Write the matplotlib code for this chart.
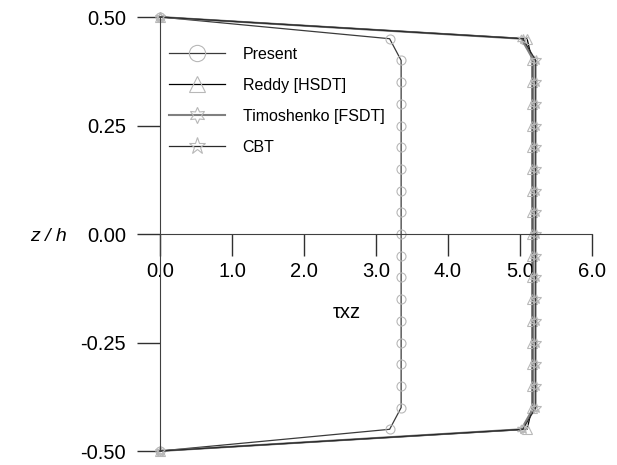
import matplotlib
matplotlib.use('Agg')
import matplotlib.pyplot as plt

plt.rcParams['font.family'] = ['Liberation Sans', 'DejaVu Sans']

# Posição normalizada ao longo da espessura
z_h = [0.50, 0.45, 0.40, 0.35, 0.30, 0.25, 0.20, 0.15, 0.10, 0.05, 0.00,
       -0.05, -0.10, -0.15, -0.20, -0.25, -0.30, -0.35, -0.40, -0.45, -0.50]

# Tensão de cisalhamento transversal tau_xz
tau_present = [0.0, 3.19, 3.35, 3.35, 3.35, 3.35, 3.35, 3.35, 3.35, 3.35, 3.35,
               3.35, 3.35, 3.35, 3.35, 3.35, 3.35, 3.35, 3.35, 3.19, 0.0]
tau_reddy = [0.0, 5.10, 5.17, 5.17, 5.17, 5.17, 5.17, 5.17, 5.17, 5.17, 5.17,
             5.17, 5.17, 5.17, 5.17, 5.17, 5.17, 5.17, 5.17, 5.10, 0.0]
tau_timoshenko = [0.0, 5.02, 5.19, 5.19, 5.19, 5.19, 5.19, 5.19, 5.19, 5.19, 5.19,
                  5.19, 5.19, 5.19, 5.19, 5.19, 5.19, 5.19, 5.19, 5.02, 0.0]
tau_cbt = [0.0, 5.04, 5.22, 5.22, 5.22, 5.22, 5.22, 5.22, 5.22, 5.22, 5.22,
           5.22, 5.22, 5.22, 5.22, 5.22, 5.22, 5.22, 5.22, 5.04, 0.0]

fig = plt.figure(figsize=(6.17, 4.65), dpi=100)
ax = fig.add_axes([0.2593, 0.0301, 0.700, 0.9333])

cor_marcador = '#b8b8b8'
ax.plot(tau_present, z_h, color='#3a3a3a', lw=0.9, marker='o', ms=6.5,
        mfc='none', mec=cor_marcador, mew=0.8, clip_on=False, label='Present')
ax.plot(tau_reddy, z_h, color='black', lw=0.9, marker='^', ms=6.5,
        mfc='none', mec=cor_marcador, mew=0.8, clip_on=False, label='Reddy [HSDT]')
ax.plot(tau_timoshenko, z_h, color='#808080', lw=1.5, marker=(6, 1, 0), ms=6.5,
        mfc='none', mec=cor_marcador, mew=0.8, clip_on=False, label='Timoshenko [FSDT]')
ax.plot(tau_cbt, z_h, color='#2a2a2a', lw=0.9, marker='*', ms=7,
        mfc='none', mec=cor_marcador, mew=0.8, clip_on=False, label='CBT')

ax.set_xlim(0, 6)
ax.set_ylim(-0.5, 0.5)
ax.spines['top'].set_visible(False)
ax.spines['right'].set_visible(False)
ax.spines['bottom'].set_position(('data', 0))
ax.spines['left'].set_color('#404040')
ax.spines['bottom'].set_color('#404040')

ax.set_xticks([0, 1, 2, 3, 4, 5, 6])
ax.set_xticklabels(['0.0', '1.0', '2.0', '3.0', '4.0', '5.0', '6.0'])
ax.set_yticks([-0.5, -0.25, 0, 0.25, 0.5])
ax.set_yticklabels(['-0.50', '-0.25', '0.00', '0.25', '0.50'])
ax.tick_params(axis='x', direction='out', length=16, width=1.0, color='#303030',
               pad=4, labelsize=14.5)
ax.tick_params(axis='y', direction='out', length=16.5, width=1.0, color='#303030',
               pad=8, labelsize=14.5)
ax.patch.set_alpha(0)

ax.text(2.6, -0.18, 'τxz', ha='center', va='center', fontsize=14.5)
fig.text(48 / 617, 1 - 236 / 465, 'z / h', ha='center', va='center',
         fontsize=14, style='italic')

ax.legend(loc='upper left', bbox_to_anchor=(-0.012, 0.965), frameon=False,
          fontsize=11.5, handlelength=3.5, handletextpad=1.1, labelspacing=1.0,
          markerscale=1.8)

fig.savefig('out.png', dpi=100)
